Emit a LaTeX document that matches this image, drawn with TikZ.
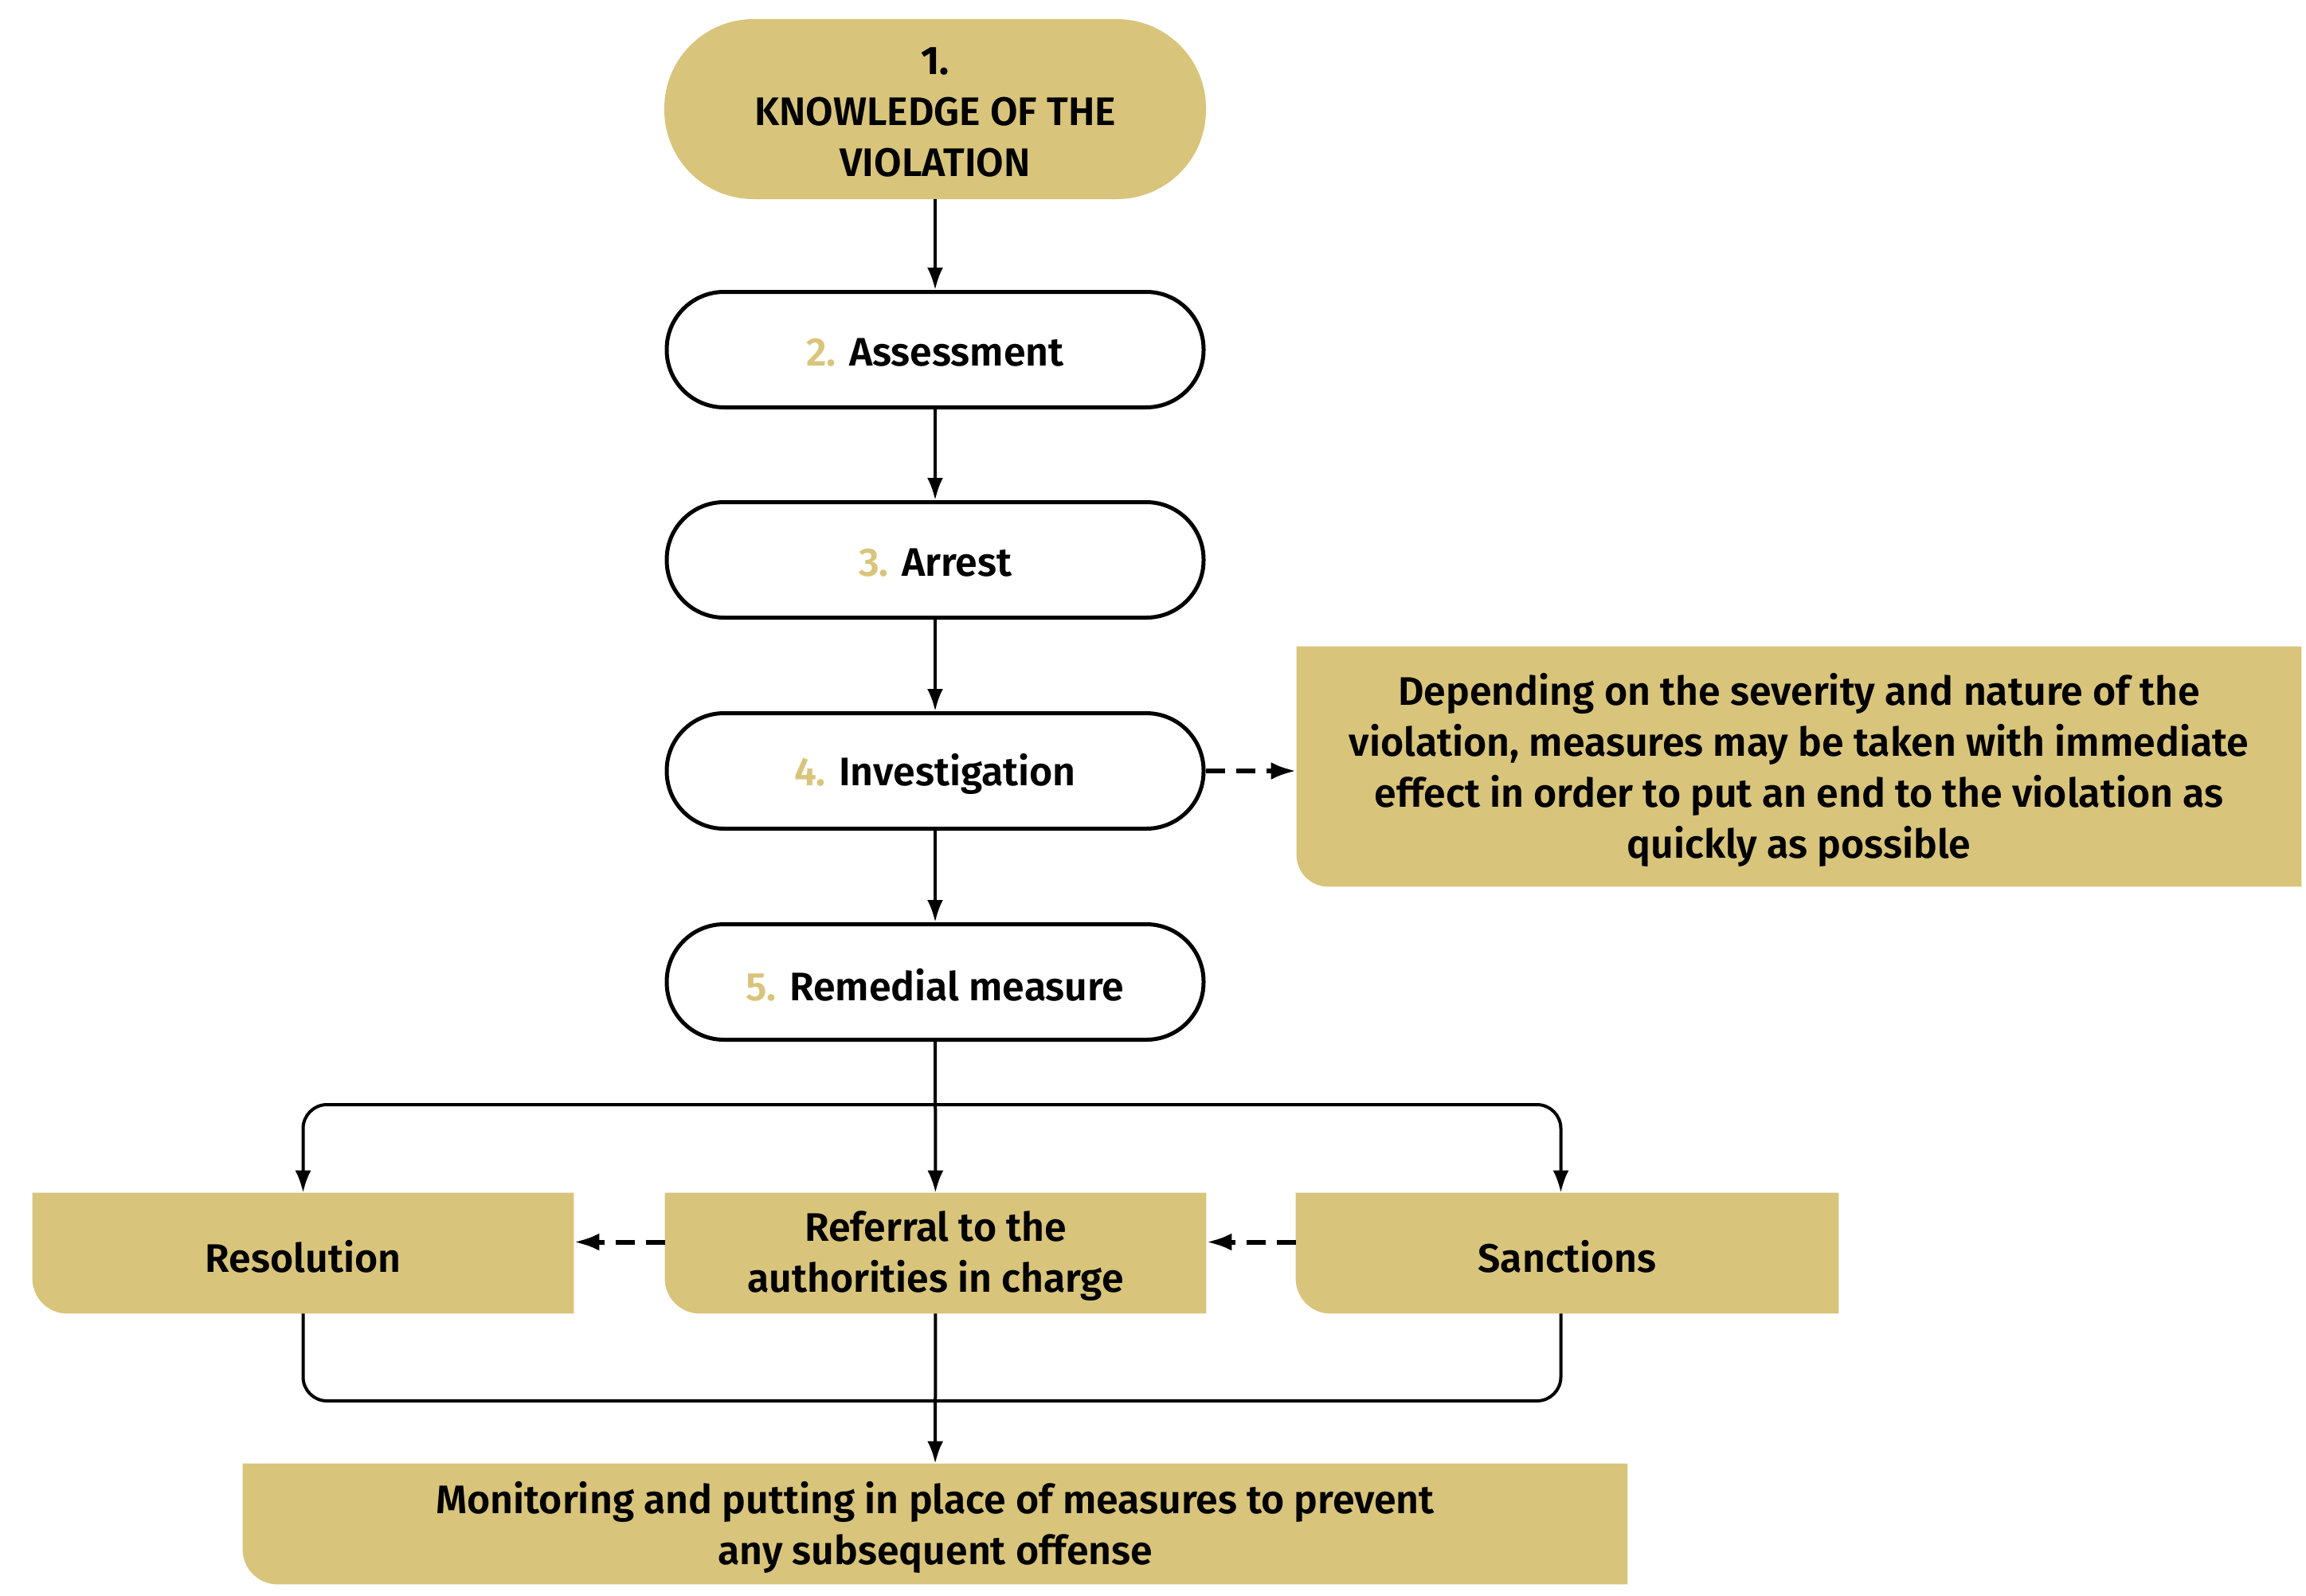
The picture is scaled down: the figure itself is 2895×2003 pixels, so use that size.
\documentclass[tikz,border=0pt]{standalone}
\usepackage{fontspec}
\IfFontExistsTF{Fira Sans SemiBold}{\setmainfont{Fira Sans SemiBold}[BoldFont={Fira Sans Bold}]}{\setmainfont{Fira Sans}}
\usetikzlibrary{arrows.meta,backgrounds}
\definecolor{gold}{HTML}{D8C47B}
\begin{document}
\begin{tikzpicture}[x=0.5pt,y=-0.5pt,
  every node/.style={inner sep=0pt},
  txt/.style={font=\fontsize{25}{32}\selectfont, align=center, anchor=center, yshift=-2pt},
  stage/.style={draw=black, line width=2.5pt, fill=white, rounded corners=36pt, minimum width=337pt, minimum height=72.5pt},
  startnode/.style={fill=gold, rounded corners=56pt, minimum width=340pt, minimum height=113pt},
  gbox/.style={minimum width=#1, minimum height=75.5pt},
  conn/.style={line width=2pt, -{Latex[length=14pt,width=10pt]}},
  plainline/.style={line width=2pt},
  dasharrow/.style={line width=3pt, dash pattern=on 12pt off 7pt, -{Latex[length=16pt,width=11pt]}}
]
\path[use as bounding box] (0,0) rectangle (2895,2003);

% shapes
\node[startnode] (n1) at (1174,137) {};
\node[stage] (n2) at (1174,439) {};
\node[stage] (n3) at (1174,703) {};
\node[stage] (n4) at (1174,968) {};
\node[stage] (n5) at (1174,1233) {};
\node[gbox=630.5pt, minimum height=150.5pt] (note) at (2258.5,962.5) {};
\node[gbox=339.5pt] (res) at (380.5,1573.5) {};
\node[gbox=339.5pt] (ref) at (1174.5,1573.5) {};
\node[gbox=340.5pt] (san) at (1967.5,1573.5) {};
\node[gbox=869pt] (mon) at (1174,1913.5) {};

\begin{scope}[on background layer]
  \fill[white] (0,0) rectangle (2895,2003);
  \foreach \n/\r in {note/20pt,res/22pt,ref/22pt,san/22pt,mon/22pt}
    \fill[gold] (\n.north west) -- (\n.north east) -- (\n.south east) [rounded corners=\r] -- (\n.south west) [sharp corners] -- cycle;
\end{scope}

% texts
\node[txt] (n1t) at (n1.center) {\textbf{1.}\\KNOWLEDGE OF THE\\VIOLATION};
\node[txt] (n2t) at (n2.center) {\textcolor{gold}{2.} Assessment};
\node[txt] (n3t) at (n3.center) {\textcolor{gold}{3.} Arrest};
\node[txt] (n4t) at (n4.center) {\textcolor{gold}{4.} Investigation};
\node[txt] (n5t) at (n5.center) {\textcolor{gold}{5.} Remedial measure};
\node[txt] (notet) at (note.center) {Depending on the severity and nature of the\\violation, measures may be taken with immediate\\effect in order to put an end to the violation as\\quickly as possible};
\node[txt] (rest) at (res.center) {Resolution};
\node[txt] (reft) at (ref.center) {Referral to the\\authorities in charge};
\node[txt] (sant) at (san.center) {Sanctions};
\node[txt] (mont) at (mon.center) {Monitoring and putting in place of measures to prevent\\any subsequent offense};

% connectors
\draw[conn] (n1) -- (n2);
\draw[conn] (n2) -- (n3);
\draw[conn] (n3) -- (n4);
\draw[conn] (n4) -- (n5);
\draw[conn] (n5) -- (ref);

\coordinate (split) at (1174,1387);
\coordinate (join) at (1174,1759);
\draw[conn, rounded corners=15pt] (split) -| (res.north);
\draw[conn, rounded corners=15pt] (split) -| ([xshift=-4pt]san.north);
\draw[plainline, rounded corners=15pt] (res.south) |- (join) -| ([xshift=-4pt]san.south);
\draw[conn] (ref) -- (mon);

\draw[dasharrow] (n4.east) -- (n4.east -| note.west);
\draw[dasharrow] ([yshift=7pt]ref.west) -- ([yshift=7pt]res.east);
\draw[dasharrow] ([yshift=7pt]san.west) -- ([yshift=7pt]ref.east);
\end{tikzpicture}
\end{document}
